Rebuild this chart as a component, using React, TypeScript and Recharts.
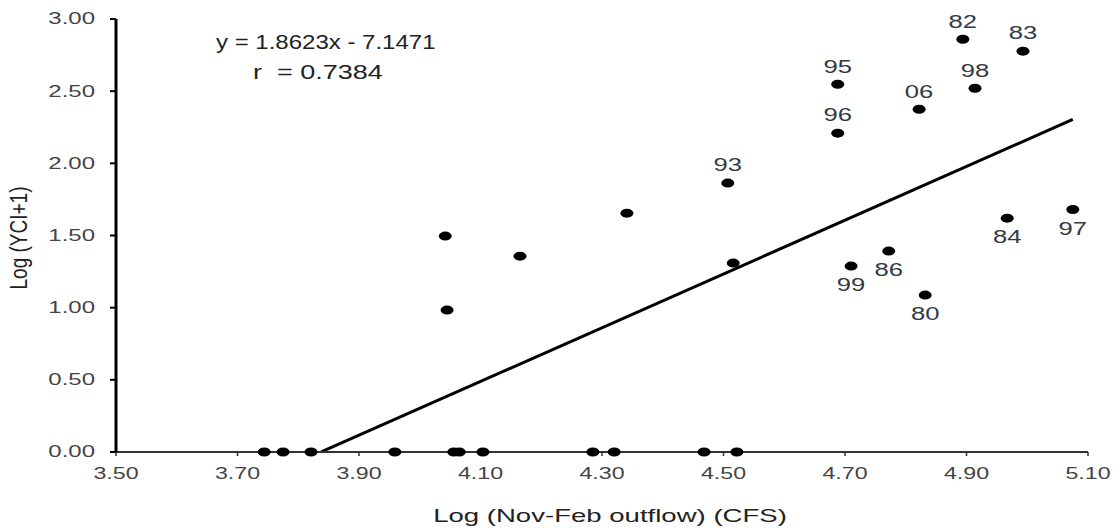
import { ScatterChart, Scatter, XAxis, YAxis, ReferenceLine } from 'recharts';

const FONT = '"Liberation Sans", Arial, sans-serif';
const SX = 1.35; // source picture is stretched sideways

// years with zero YCI (Log(YCI+1) = 0)
const zeroX = [3.744, 3.775, 3.821, 3.959, 4.056, 4.065, 4.104, 4.285, 4.32, 4.468, 4.522];

// points without a year label
const plainX = [4.042, 4.045, 4.165, 4.341, 4.516];
const plainY = [1.496, 0.983, 1.357, 1.655, 1.309];

// labelled years
const yearLabels = ['82', '83', '95', '98', '06', '96', '93', '84', '97', '99', '86', '80'];
const yearX = [4.894, 4.993, 4.688, 4.914, 4.822, 4.688, 4.507, 4.967, 5.075, 4.71, 4.772, 4.832];
const yearY = [2.86, 2.777, 2.548, 2.52, 2.375, 2.209, 1.863, 1.62, 1.68, 1.288, 1.392, 1.087];
const labelsBelow = ['84', '97', '99', '86', '80'];

const xTicks = [3.5, 3.7, 3.9, 4.1, 4.3, 4.5, 4.7, 4.9, 5.1];
const yTicks = [0, 0.5, 1, 1.5, 2, 2.5, 3];

// regression
const slope = 1.8623;
const intercept = -7.1471;
const r = 0.7384;
const trendX = [3.8378, 5.075];

const points = [
  ...zeroX.map((x) => ({ x, y: 0, label: '' })),
  ...plainX.map((x, i) => ({ x, y: plainY[i], label: '' })),
  ...yearX.map((x, i) => ({ x, y: yearY[i], label: yearLabels[i] })),
];

const PointShape = (props: any) => {
  const { cx, cy, payload } = props;
  const label = payload?.label;
  const below = labelsBelow.includes(label);
  return (
    <g>
      <ellipse cx={cx} cy={cy} rx={6.5} ry={4.5} fill="#000" />
      {label ? (
        <text
          transform={`translate(${cx},${cy + (below ? 19 : -18)}) scale(${SX},1)`}
          textAnchor="middle"
          dominantBaseline="central"
          fontSize={19}
          fontFamily={FONT}
          fill="#333a45"
        >
          {label}
        </text>
      ) : null}
    </g>
  );
};

const XTick = (props: any) => {
  const { x, payload } = props;
  return (
    <text
      transform={`translate(${x},473) scale(1.45,1)`}
      textAnchor="middle"
      dominantBaseline="central"
      fontSize={16}
      fontFamily={FONT}
      fill="#444"
    >
      {Number(payload.value).toFixed(2)}
    </text>
  );
};

const YTick = (props: any) => {
  const { y, payload } = props;
  return (
    <text
      transform={`translate(95,${y}) scale(1.5,1)`}
      textAnchor="end"
      dominantBaseline="central"
      fontSize={16}
      fontFamily={FONT}
      fill="#444"
    >
      {Number(payload.value).toFixed(2)}
    </text>
  );
};

const textStyle: any = {
  position: 'absolute',
  fontFamily: FONT,
  color: '#222',
  whiteSpace: 'pre',
  lineHeight: 1,
};

export default function App() {
  return (
    <div style={{ position: 'absolute', left: 0, top: 0, width: 1115, height: 529, background: '#fff' }}>
      <ScatterChart width={1115} height={529} margin={{ top: 19, right: 27, bottom: 0, left: 0 }}>
        <XAxis
          type="number"
          dataKey="x"
          domain={[3.5, 5.1]}
          ticks={xTicks}
          height={77}
          axisLine={{ stroke: '#333', strokeWidth: 2 }}
          tickLine={{ stroke: '#333', strokeWidth: 1.5 }}
          tickSize={4}
          tick={<XTick />}
          interval={0}
        />
        <YAxis
          type="number"
          dataKey="y"
          domain={[0, 3]}
          ticks={yTicks}
          width={116}
          axisLine={{ stroke: '#000', strokeWidth: 3 }}
          tickLine={{ stroke: '#000', strokeWidth: 2 }}
          tickSize={6}
          tick={<YTick />}
          interval={0}
        />
        <ReferenceLine
          segment={[
            { x: trendX[0], y: Math.max(0, slope * trendX[0] + intercept) },
            { x: trendX[1], y: slope * trendX[1] + intercept },
          ]}
          stroke="#000"
          strokeWidth={3}
          ifOverflow="visible"
        />
        <Scatter data={points} shape={<PointShape />} isAnimationActive={false} />
      </ScatterChart>

      <div
        style={{
          ...textStyle,
          left: 216,
          top: 42,
          fontSize: 20,
          transform: `translateY(-50%) scaleX(1.2)`,
          transformOrigin: 'left center',
        }}
      >
        {`y = ${slope}x - ${Math.abs(intercept)}`}
      </div>
      <div
        style={{
          ...textStyle,
          left: 253,
          top: 72,
          fontSize: 20,
          transform: `translateY(-50%) scaleX(1.35)`,
          transformOrigin: 'left center',
        }}
      >
        {`r  = ${r}`}
      </div>

      <div
        style={{
          ...textStyle,
          left: 610,
          top: 515,
          fontSize: 19,
          transform: `translate(-50%,-50%) scaleX(1.45)`,
        }}
      >
        Log (Nov-Feb outflow) (CFS)
      </div>
      <div
        style={{
          ...textStyle,
          left: 19,
          top: 238,
          fontSize: 19,
          transform: `translate(-50%,-50%) rotate(-90deg) scaleY(1.3)`,
        }}
      >
        Log (YCI+1)
      </div>
    </div>
  );
}
